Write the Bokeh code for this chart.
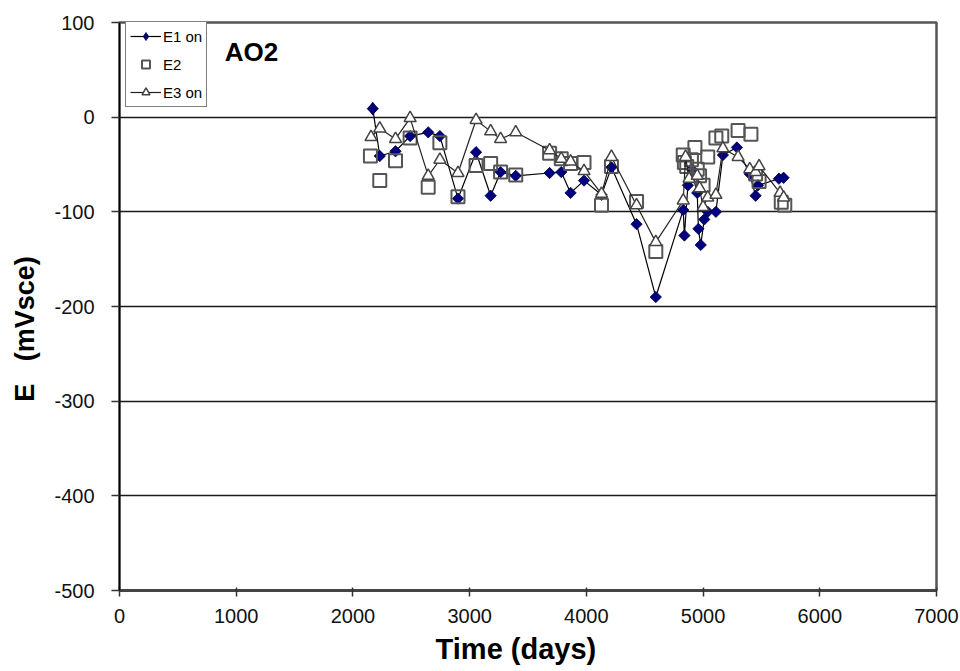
import math
from bokeh.plotting import figure
from bokeh.models import Range1d, Legend, LegendItem, Label, FixedTicker, PrintfTickFormatter
from bokeh.embed import file_html
from bokeh.resources import INLINE

# ---- data ----
e1_x = [2170, 2230, 2365, 2490, 2645, 2745, 2900, 3055, 3180, 3265, 3395, 3685, 3785,
        3865, 3980, 4130, 4215, 4430, 4595, 4830, 4840, 4870, 4900, 4950, 4960, 4980,
        5010, 5040, 5110, 5170, 5290, 5400, 5450, 5470, 5650, 5690]
e1_y = [9, -41, -36, -20, -16, -20, -86, -37, -83, -58, -62, -59, -58,
        -80, -67, -82, -53, -113, -190, -98, -125, -72, -55, -80, -118, -135,
        -108, -100, -100, -40, -32, -60, -83, -72, -65, -64]

e2_x = [2150, 2230, 2365, 2490, 2645, 2745, 2900, 3055, 3180, 3265, 3395, 3685, 3785,
        3865, 3980, 4130, 4215, 4430, 4595, 4830, 4840, 4860, 4900, 4930, 4950, 4970,
        5000, 5040, 5110, 5160, 5300, 5410, 5450, 5480, 5670, 5700]
e2_y = [-41, -67, -46, -22, -74, -27, -84, -51, -49, -58, -61, -38, -44,
        -49, -48, -93, -52, -89, -142, -40, -48, -52, -45, -32, -55, -62,
        -72, -42, -22, -20, -14, -18, -60, -68, -90, -93]

e3_x = [2155, 2230, 2365, 2490, 2645, 2745, 2900, 3055, 3180, 3265, 3395, 3685, 3785,
        3865, 3980, 4130, 4215, 4430, 4595, 4830, 4850, 4880, 4950, 4970, 5000, 5040,
        5110, 5170, 5300, 5400, 5450, 5480, 5660, 5690]
e3_y = [-21, -12, -23, -1, -62, -45, -59, -3, -15, -23, -16, -35, -44,
        -47, -57, -81, -42, -93, -132, -88, -42, -65, -62, -75, -95, -85,
        -82, -33, -42, -55, -58, -52, -80, -85]

x_ticks = [0, 1000, 2000, 3000, 4000, 5000, 6000, 7000]
y_ticks = [-500, -400, -300, -200, -100, 0, 100]

FONT = "Liberation Sans"
NB = "\u00a0"

p = figure(width=960, height=671, output_backend="svg", toolbar_location=None,
           x_range=Range1d(0, 7000), y_range=Range1d(-500, 100),
           min_border_left=119, min_border_right=24, min_border_top=22, min_border_bottom=81)

p.background_fill_color = "white"
p.border_fill_color = "white"
p.outline_line_color = "#555555"
p.outline_line_width = 2.5

# grid
p.xgrid.visible = False
p.ygrid.ticker = FixedTicker(ticks=y_ticks)
p.ygrid.grid_line_color = "#1a1a1a"
p.ygrid.grid_line_width = 1.6

# axes
p.xaxis.ticker = FixedTicker(ticks=x_ticks)
p.yaxis.ticker = FixedTicker(ticks=y_ticks)
for ax in (p.xaxis[0], p.yaxis[0]):
    ax.formatter = PrintfTickFormatter(format="%d")
    ax.minor_tick_line_color = None
    ax.major_label_text_font = FONT
    ax.major_label_text_font_size = "20px"
    ax.major_label_text_color = "#111111"
    ax.axis_label_text_font = FONT
    ax.axis_label_text_font_style = "bold"
    ax.axis_label_text_color = "black"
    ax.major_tick_line_color = "#333333"
    ax.major_tick_line_width = 1.5

p.xaxis.axis_line_color = "#444444"
p.xaxis.axis_line_width = 3
p.xaxis.major_tick_in = 3
p.xaxis.major_tick_out = 6
p.xaxis.major_label_standoff = 12
p.xaxis.axis_label = "Time (days)" + NB * 3
p.xaxis.axis_label_text_font_size = "29px"
p.xaxis.axis_label_standoff = 7

p.yaxis.axis_line_color = "black"
p.yaxis.axis_line_width = 1.5
p.yaxis.major_tick_in = 0
p.yaxis.major_tick_out = 8
p.yaxis.major_label_standoff = 17
p.yaxis.axis_label = "E" + NB * 3 + "(mVsce)" + NB * 6
p.yaxis.axis_label_text_font_size = "27px"
p.yaxis.axis_label_standoff = 11

# series
l1 = p.line(e1_x, e1_y, line_color="black", line_width=1.2)
# legend key for E1 (diamond), sits under the first real E1 marker
m1_key = p.scatter(e1_x[:1], e1_y[:1], marker="diamond", size=13,
                   fill_color="#000080", line_color="#000040", line_width=0.8)
m1 = p.scatter(e1_x, e1_y, marker="square", angle=math.pi / 4, size=8,
               fill_color="#000080", line_color="#000040", line_width=0.8)

m2 = p.scatter(e2_x, e2_y, marker="square", size=13, fill_color=None,
               line_color="#555555", line_width=2)

l3 = p.line(e3_x, e3_y, line_color="#222222", line_width=1.2)
m3 = p.scatter(e3_x, e3_y, marker="triangle", size=12, fill_color="white",
               line_color="#444444", line_width=1.5)

legend = Legend(items=[
    LegendItem(label="E1 on", renderers=[l1, m1_key]),
    LegendItem(label="E2", renderers=[m2]),
    LegendItem(label="E3 on", renderers=[l3, m3]),
], location=(6, 483))
legend.label_text_font = FONT
legend.label_text_font_size = "15px"
legend.label_text_color = "black"
legend.label_standoff = 2
legend.glyph_width = 31
legend.glyph_height = 20
legend.label_height = 20
legend.spacing = 8
legend.padding = 4
legend.margin = 0
legend.border_line_color = "black"
legend.border_line_width = 1
legend.background_fill_color = "white"
legend.background_fill_alpha = 1
p.add_layout(legend, "center")

p.add_layout(Label(x=1130, y=69, text="AO2", text_font=FONT, text_font_style="bold",
                   text_font_size="26px", text_align="center", text_baseline="middle",
                   text_color="black"))

open("out.html", "w").write(file_html(p, INLINE))
